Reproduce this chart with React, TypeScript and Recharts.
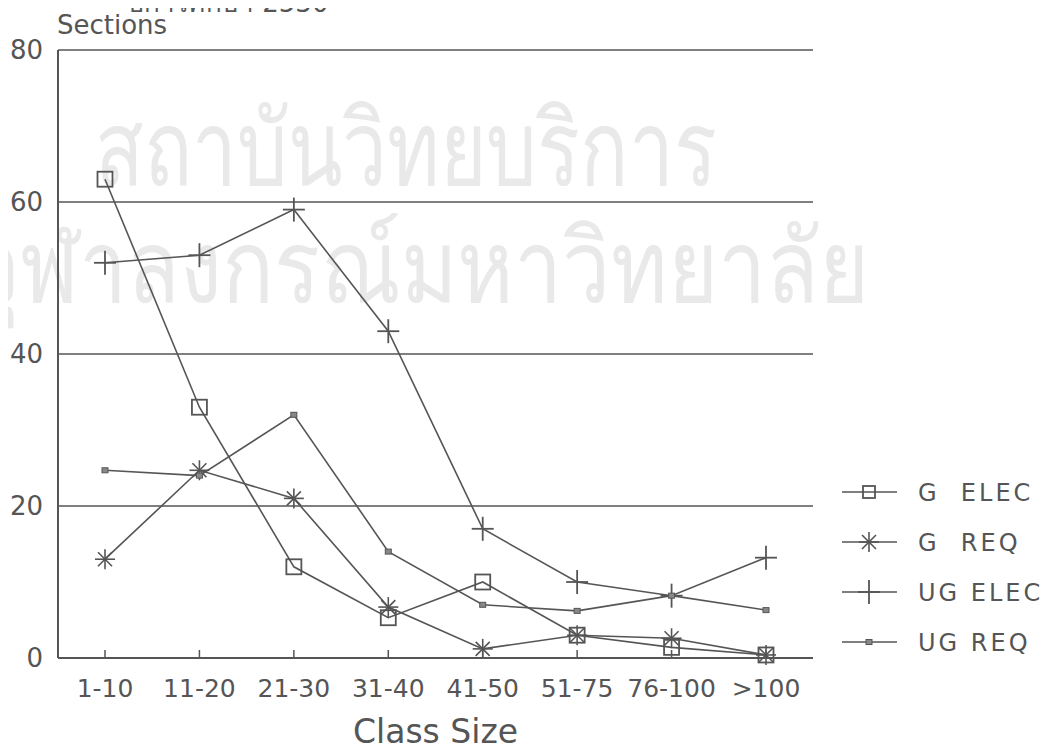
import React from 'react'
import {
    LineChart,
    Line,
    XAxis,
    YAxis,
    CartesianGrid
} from 'recharts'

const categories = ['1-10', '11-20', '21-30', '31-40', '41-50', '51-75', '76-100', '>100']
const gElec = [63, 33, 12, 5.3, 10, 3, 1.4, 0.4]
const gReq = [13, 24.7, 21, 6.7, 1.2, 3, 2.6, 0.4]
const ugElec = [52, 53, 59, 43, 17, 10, 8.2, 13.2]
const ugReq = [24.7, 24, 32, 14, 7, 6.2, 8.2, 6.3]
const yTicks = [0, 20, 40, 60, 80]

const INK = '#555'
const FONT = '"DejaVu Sans", sans-serif'
const W = 1044
const H = 740

const data = categories.map((name, i) => ({
    name,
    gElec: gElec[i],
    gReq: gReq[i],
    ugElec: ugElec[i],
    ugReq: ugReq[i]
}))

// marker shapes
const squareMark = (cx: number, cy: number, s = 7.5) => (
    <rect x={cx - s} y={cy - s} width={s * 2} height={s * 2} fill="none" stroke={INK} strokeWidth={1.8} />
)
const starMark = (cx: number, cy: number) => (
    <g stroke={INK} strokeWidth={1.6}>
        <line x1={cx - 10} y1={cy} x2={cx + 10} y2={cy} />
        <line x1={cx} y1={cy - 10} x2={cx} y2={cy + 10} />
        <line x1={cx - 7} y1={cy - 7} x2={cx + 7} y2={cy + 7} />
        <line x1={cx - 7} y1={cy + 7} x2={cx + 7} y2={cy - 7} />
    </g>
)
const plusMark = (cx: number, cy: number) => (
    <g stroke={INK} strokeWidth={1.8}>
        <line x1={cx - 11} y1={cy} x2={cx + 11} y2={cy} />
        <line x1={cx} y1={cy - 12} x2={cx} y2={cy + 12} />
    </g>
)
const smallMark = (cx: number, cy: number) => (
    <rect x={cx - 3} y={cy - 2.5} width={6} height={5} fill="#888" stroke={INK} strokeWidth={1} />
)

const series = [
    { key: 'gElec', label: 'G  ELEC', mark: squareMark },
    { key: 'gReq', label: 'G  REQ', mark: starMark },
    { key: 'ugElec', label: 'UG ELEC', mark: plusMark },
    { key: 'ugReq', label: 'UG REQ', mark: smallMark }
]

const makeDot = (mark: (cx: number, cy: number) => React.ReactElement) => (props: any) => (
    <g key={props.key ?? props.index}>{mark(props.cx, props.cy)}</g>
)

const XTick = (props: any) => {
    const { x, y, payload } = props
    return (
        <g>
            <line x1={x} x2={x} y1={y} y2={y - 8} stroke={INK} strokeWidth={1.5} />
            <text x={x} y={y + 39} textAnchor="middle" fill={INK} fontSize={25} fontFamily={FONT}>
                {payload.value}
            </text>
        </g>
    )
}

// faint scan watermark behind the chart
const Watermark = () => (
    <svg width={W} height={H} style={{ position: 'absolute', left: 0, top: 0 }}>
        <g fill="#e9e9e9" fontFamily={FONT}>
            <text x={87} y={177 / 1.3} fontSize={80} transform="scale(1,1.3)">สถาบันวิทยบริการ</text>
            <text x={-38} y={294 / 1.18} fontSize={86} transform="scale(1,1.18)">จุฬาลงกรณ์มหาวิทยาลัย</text>
        </g>
    </svg>
)

const Overlay = () => (
    <svg width={W} height={H} style={{ position: 'absolute', left: 0, top: 0 }}>
        <text x={119} y={4} fill={INK} fontSize={26} fontFamily={FONT}>ปีการศึกษา 2530</text>
        <text x={49} y={26} fill={INK} fontSize={26} fontFamily={FONT}>Sections</text>
        {series.map((s, i) => {
            const cy = 484 + i * 50
            return (
                <g key={s.key}>
                    <line x1={834} x2={889} y1={cy} y2={cy} stroke={INK} strokeWidth={1.6} />
                    {s.key === 'gElec' ? squareMark(861, cy, 6) : s.mark(861, cy)}
                    <text x={910} y={cy + 9} fill={INK} fontSize={24} letterSpacing={3} fontFamily={FONT} style={{ whiteSpace: 'pre' }}>
                        {s.label}
                    </text>
                </g>
            )
        })}
    </svg>
)

export default function App() {
    return (
        <div style={{ position: 'relative', width: W, height: H, fontFamily: FONT }}>
            <Watermark />
            <div style={{ position: 'absolute', left: 0, top: 0 }}>
                <LineChart
                    width={W}
                    height={H}
                    data={data}
                    margin={{ top: 42, right: 239, left: 0, bottom: 0 }}
                >
                    <CartesianGrid vertical={false} stroke={INK} strokeWidth={1.6} />
                    <XAxis
                        dataKey="name"
                        tick={<XTick />}
                        tickLine={false}
                        tickSize={0}
                        tickMargin={0}
                        height={90}
                        interval={0}
                        padding={{ left: 47, right: 47 }}
                        axisLine={{ stroke: INK, strokeWidth: 2 }}
                        label={{ value: 'Class Size', position: 'insideBottom', offset: 5, fill: INK, fontSize: 33, fontFamily: FONT }}
                    />
                    <YAxis
                        domain={[0, 80]}
                        ticks={yTicks}
                        width={50}
                        tickLine={false}
                        tickSize={7}
                        tickMargin={8}
                        axisLine={{ stroke: INK, strokeWidth: 2 }}
                        tick={{ fill: INK, fontSize: 26, fontFamily: FONT }}
                    />
                    <YAxis
                        yAxisId="right"
                        orientation="right"
                        domain={[0, 80]}
                        width={0}
                        tick={false}
                        tickLine={false}
                        axisLine={{ stroke: INK, strokeWidth: 2 }}
                    />
                    {series.map((s) => (
                        <Line
                            key={s.key}
                            dataKey={s.key}
                            name={s.label}
                            type="linear"
                            stroke={INK}
                            strokeWidth={1.6}
                            dot={makeDot(s.mark)}
                            activeDot={false}
                            isAnimationActive={false}
                        />
                    ))}
                </LineChart>
            </div>
            <Overlay />
        </div>
    )
}
